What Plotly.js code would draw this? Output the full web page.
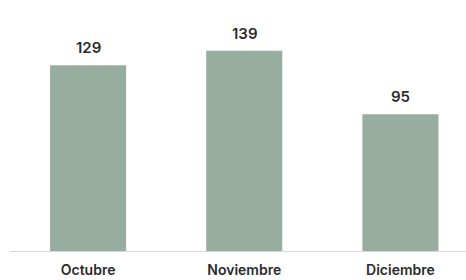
<!DOCTYPE html>
<html><head><meta charset="utf-8">
<script src="https://cdn.plot.ly/plotly-3.0.1.min.js"></script>
<style>html,body{margin:0;padding:0;background:#fff}#c{width:466px;height:280px}</style>
</head><body><div id="c"></div>
<script>
const categories = ['Octubre', 'Noviembre', 'Diciembre'];
const values = [129, 139, 95];
const barColor = '#97ad9f';

const trace = {
  type: 'bar', x: categories, y: values,
  marker: {color: barColor}, hoverinfo: 'none'
};
const annotations = categories.map((c, i) => ({
  x: c, y: values[i], xref: 'x', yref: 'y', text: String(values[i]),
  showarrow: false, yanchor: 'bottom', yshift: 6,
  font: {family: 'Inter, Open Sans, sans-serif', size: 15, color: '#2b2b2b', weight: 600}
}));
const layout = {
  width: 466, height: 280,
  margin: {l: 10, r: 0, t: 20, b: 29},
  paper_bgcolor: '#fff', plot_bgcolor: '#fff',
  bargap: 0.513, showlegend: false,
  xaxis: {range: [-0.5, 2.42], showline: true, linecolor: '#d9d9d9', linewidth: 1,
          showgrid: false, zeroline: false, ticks: '', ticklabelstandoff: 6,
          tickfont: {family: 'Inter, Open Sans, sans-serif', size: 14, color: '#2b2b2b', weight: 600}},
  yaxis: {range: [0, 160.4], visible: false, showgrid: false, zeroline: false},
  annotations: annotations
};
Plotly.newPlot('c', [trace], layout, {staticPlot: true});
</script></body></html>
